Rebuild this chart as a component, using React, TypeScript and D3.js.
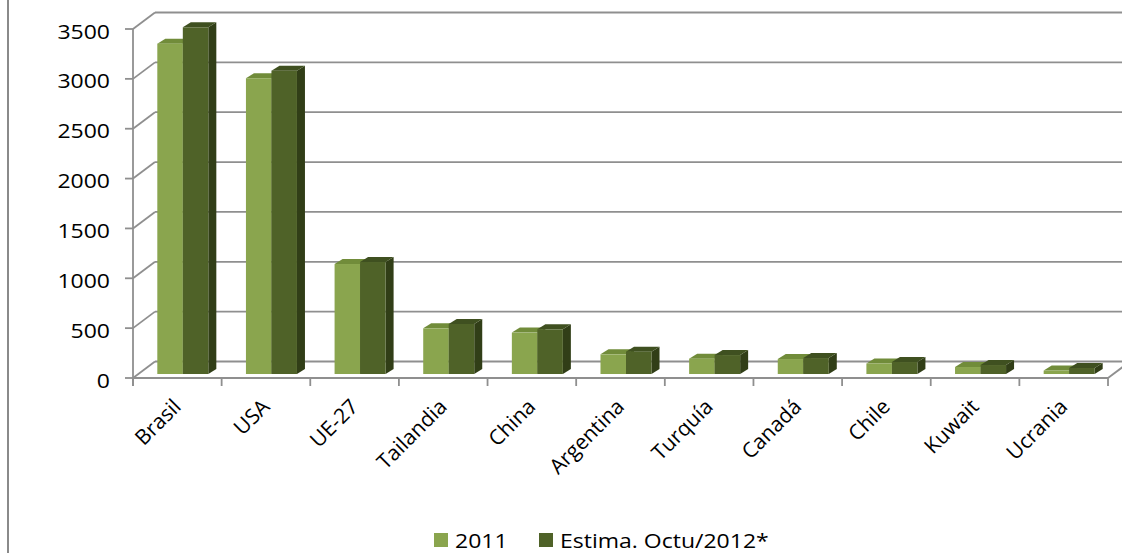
import React from 'react';
import * as d3 from 'd3';

const categories = ['Brasil', 'USA', 'UE-27', 'Tailandia', 'China', 'Argentina', 'Turquía', 'Canadá', 'Chile', 'Kuwait', 'Ucrania'];
const values2011 = [3313, 2966, 1103, 458, 415, 197, 154, 150, 105, 70, 35];
const values2012 = [3477, 3042, 1123, 502, 448, 224, 190, 160, 120, 90, 60];
const seriesNames = ['2011', 'Estima. Octu/2012*'];
const yTicks = [0, 500, 1000, 1500, 2000, 2500, 3000, 3500];

const seriesColors = [
  { front: '#8aa54e', top: '#718c3a', side: '#5d7530' },
  { front: '#4f6228', top: '#3f5020', side: '#313e17' },
];

export default function App() {
  const W = 1122;
  const H = 553;
  const x0 = 133;
  const x1 = 1108;
  const yTop = 29;
  const yBot = 378;
  const wallDx = 22;
  const wallDy = -16.5;
  const barOffX = 5.5;
  const barOffY = -4;
  const barDx = 8;
  const barDy = -5;
  const gridColor = '#8f8f8f';
  const font = "'Open Sans', sans-serif";
  const sx = 1.15;

  const y = d3.scaleLinear().domain([0, 3500]).range([yBot, yTop]);
  const pad = 0.4244;
  const x = d3.scaleBand<string>().domain(categories).range([x0, x1]).paddingInner(pad).paddingOuter(pad / 2);
  const xs = d3.scaleBand<string>().domain(seriesNames).range([0, x.bandwidth()]);
  const step = x.step();
  const series = [values2011, values2012];

  const bars: React.ReactNode[] = [];
  categories.forEach((c, i) => {
    series.forEach((vals, s) => {
      const v = vals[i];
      const bx0 = (x(c) as number) + (xs(seriesNames[s]) as number) + barOffX;
      const bx1 = bx0 + xs.bandwidth();
      const by0 = y(v) + barOffY;
      const by1 = y(0) + barOffY;
      const col = seriesColors[s];
      const top = `M${bx0},${by0} L${bx1},${by0} L${bx1 + barDx},${by0 + barDy} L${bx0 + barDx},${by0 + barDy} Z`;
      const side = `M${bx1},${by0} L${bx1 + barDx},${by0 + barDy} L${bx1 + barDx},${by1 + barDy} L${bx1},${by1} Z`;
      bars.push(
        <g key={`${c}-${s}`}>
          <path d={side} fill={col.side} />
          <path d={top} fill={col.top} />
          <rect x={bx0} y={by0} width={bx1 - bx0} height={by1 - by0} fill={col.front} />
        </g>
      );
    });
  });

  return (
    <div style={{ position: 'fixed', left: 0, top: 0 }}>
      <svg width={W} height={H} style={{ display: 'block', background: '#fff' }}>
        <line x1={8} y1={0} x2={8} y2={H} stroke="#8a8a8a" strokeWidth={2} />
        {yTicks.map((t) => (
          <g key={`g${t}`}>
            <line x1={x0 + wallDx} y1={y(t) + wallDy} x2={W + 20} y2={y(t) + wallDy} stroke={gridColor} strokeWidth={1.8} />
            <line x1={x0} y1={y(t)} x2={x0 + wallDx} y2={y(t) + wallDy} stroke={gridColor} strokeWidth={1.8} />
            <line x1={x0 - 8} y1={y(t)} x2={x0} y2={y(t)} stroke={gridColor} strokeWidth={1.8} />
            <text
              transform={`translate(110,${y(t) + 9.5}) scale(${sx},1)`}
              textAnchor="end"
              fontFamily={font}
              fontSize={20}
              fill="#000"
            >
              {t}
            </text>
          </g>
        ))}
        <line x1={x0} y1={yTop} x2={x0} y2={yBot + 8} stroke={gridColor} strokeWidth={1.8} />
        <line x1={x0} y1={yBot} x2={x1} y2={yBot} stroke={gridColor} strokeWidth={1.8} />
        <line x1={x1} y1={yBot} x2={x1 + wallDx} y2={yBot + wallDy} stroke={gridColor} strokeWidth={1.8} />
        {d3.range(categories.length + 1).map((i) => (
          <line key={`t${i}`} x1={x0 + i * step} y1={yBot} x2={x0 + i * step} y2={yBot + 8} stroke={gridColor} strokeWidth={1.8} />
        ))}
        {bars}
        {categories.map((c) => {
          const cx = (x(c) as number) + x.bandwidth() / 2 + 5;
          return (
            <text
              key={`l${c}`}
              transform={`translate(${cx},408) rotate(-45)`}
              textAnchor="end"
              fontFamily={font}
              fontSize={21}
              fill="#000"
            >
              {c}
            </text>
          );
        })}
        {seriesNames.map((n, s) => {
          const lx = s === 0 ? 434 : 539;
          return (
            <g key={`lg${n}`}>
              <rect x={lx} y={533} width={14} height={14} fill={seriesColors[s].front} />
              <text
                transform={`translate(${lx + 21},548) scale(${sx},1)`}
                fontFamily={font}
                fontSize={20}
                fill="#000"
              >
                {n}
              </text>
            </g>
          );
        })}
      </svg>
    </div>
  );
}
